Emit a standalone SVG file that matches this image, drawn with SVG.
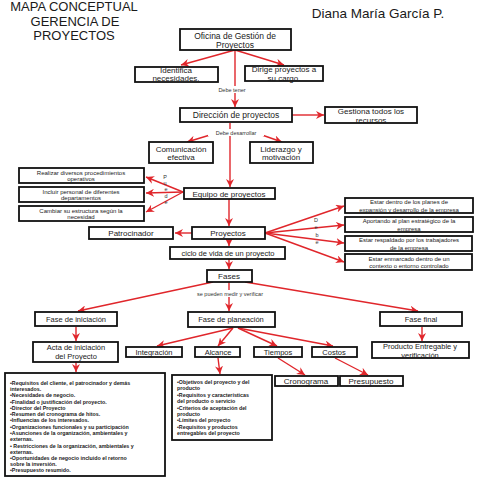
<svg xmlns="http://www.w3.org/2000/svg" width="480" height="480" viewBox="0 0 480 480">
<defs>
<style>
.b{fill:#fff;stroke:#111;stroke-width:1.8}
.t{font-family:"Liberation Sans",Arial,sans-serif;fill:#1a1a1a;text-anchor:middle}
.l{font-family:"Liberation Sans",Arial,sans-serif;fill:#1a1a1a;font-weight:bold;font-size:5.3px}
.c{stroke:#e0262b;stroke-width:1.4;fill:none;marker-end:url(#ah)}
.lab{font-family:"Liberation Sans",Arial,sans-serif;fill:#333;font-size:5.5px;text-anchor:middle}
</style>
<marker id="ah" markerUnits="userSpaceOnUse" markerWidth="9" markerHeight="8" refX="8" refY="4" orient="auto">
<path d="M0,0 L8,4 L0,8 L2.5,4 z" fill="#e0262b"/>
</marker>
</defs>
<rect width="480" height="480" fill="#fff"/>
<g id="title" class="t" font-size="13">
<text x="74" y="11">MAPA CONCEPTUAL</text>
<text x="75" y="26">GERENCIA DE</text>
<text x="74" y="40">PROYECTOS</text>
</g>
<text class="t" x="378" y="18" font-size="13.5">Diana María García P.</text>

<g id="connectors">
<line class="c" x1="235" y1="50" x2="181" y2="65"/>
<line class="c" x1="235" y1="50" x2="284" y2="65"/>
<line class="c" x1="235" y1="50" x2="235" y2="107"/>
<line class="c" x1="292" y1="115" x2="324" y2="115"/>
<line class="c" x1="230" y1="123" x2="230" y2="187"/>
<line class="c" x1="210" y1="135" x2="187" y2="142"/>
<line class="c" x1="262" y1="135" x2="282" y2="142"/>
<line class="c" x1="183" y1="192" x2="146" y2="177"/>
<line class="c" x1="183" y1="192" x2="146" y2="193"/>
<line class="c" x1="183" y1="192" x2="146" y2="212"/>
<line class="c" x1="229" y1="199" x2="229" y2="226"/>
<line class="c" x1="192" y1="233" x2="175" y2="233"/>
<line class="c" x1="265" y1="233" x2="344" y2="206"/>
<line class="c" x1="265" y1="233" x2="344" y2="225"/>
<line class="c" x1="265" y1="233" x2="344" y2="243"/>
<line class="c" x1="265" y1="233" x2="344" y2="262"/>
<line class="c" x1="229" y1="239" x2="229" y2="246"/>
<line class="c" x1="229" y1="259" x2="229" y2="269"/>
<line class="c" x1="213" y1="282" x2="78" y2="311"/>
<line class="c" x1="229" y1="282" x2="229" y2="311"/>
<line class="c" x1="245" y1="282" x2="418" y2="311"/>
<line class="c" x1="76" y1="327" x2="76" y2="341"/>
<line class="c" x1="233" y1="328" x2="157" y2="346"/>
<line class="c" x1="233" y1="328" x2="218" y2="346"/>
<line class="c" x1="238" y1="328" x2="277" y2="346"/>
<line class="c" x1="238" y1="328" x2="333" y2="346"/>
<line class="c" x1="422" y1="327" x2="422" y2="341"/>
<line class="c" x1="76" y1="362" x2="76" y2="372"/>
<line class="c" x1="218" y1="358" x2="220" y2="374"/>
<line class="c" x1="278" y1="358" x2="305" y2="375"/>
<line class="c" x1="335" y1="358" x2="368" y2="375"/>
</g>

<g id="lab1"><rect x="218" y="86" width="27" height="7" fill="#fff"/><text class="lab" x="232" y="92">Debe tener</text></g>
<g id="lab2"><rect x="208" y="129" width="56" height="7" fill="#fff"/><text class="lab" x="236" y="135">Debe desarrollar</text></g>
<g id="lab3"><rect x="190" y="290" width="80" height="7" fill="#fff"/><text class="lab" x="230" y="296">se pueden medir y verificar</text></g>
<g id="lab4" class="lab" font-size="6"><text x="165" y="179">P</text><text x="165" y="185">u</text><text x="166" y="191">e</text><text x="166" y="198">d</text><text x="166" y="204">e</text></g>
<g id="lab5" class="lab" font-size="6"><text x="316" y="222">D</text><text x="316" y="229">e</text><text x="317" y="237">b</text><text x="317" y="244">e</text></g>

<g id="oficina"><rect class="b" x="180" y="29" width="111" height="21"/><text class="t" font-size="8.5" x="235" y="39">Oficina de Gestión de</text><text class="t" font-size="8.5" x="235" y="48">Proyectos</text></g>
<g id="identifica"><rect class="b" x="135" y="67" width="83" height="15"/><text class="t" font-size="8" x="176" y="73">Identifica</text><text class="t" font-size="8" x="176" y="81">necesidades.</text></g>
<g id="dirige"><rect class="b" x="245" y="66" width="78" height="15"/><text class="t" font-size="8" x="284" y="72">Dirige proyectos  a</text><text class="t" font-size="8" x="284" y="81">su cargo.</text></g>
<g id="direccion"><rect class="b" x="180" y="108" width="112" height="14"/><text class="t" font-size="8.5" x="236" y="118">Dirección de proyectos</text></g>
<g id="gestiona"><rect class="b" x="325" y="107" width="92" height="16"/><text class="t" font-size="8" x="371" y="114">Gestiona todos los</text><text class="t" font-size="8" x="371" y="123">recursos</text></g>
<g id="comunicacion"><rect class="b" x="149" y="142" width="64" height="21"/><text class="t" font-size="8" x="181" y="152">Comunicación</text><text class="t" font-size="8" x="181" y="160">efectiva</text></g>
<g id="liderazgo"><rect class="b" x="250" y="142" width="63" height="21"/><text class="t" font-size="8" x="281" y="152">Liderazgo y</text><text class="t" font-size="8" x="281" y="160">motivación</text></g>
<g id="realizar"><rect class="b" x="19" y="168" width="125" height="15"/><text class="t" font-size="6" x="81" y="174.5">Realizar diversos procedimientos</text><text class="t" font-size="6" x="81" y="181">operativos</text></g>
<g id="incluir"><rect class="b" x="19" y="187" width="125" height="15"/><text class="t" font-size="6" x="81" y="193.5">Incluir personal de diferentes</text><text class="t" font-size="6" x="81" y="200">departamentos</text></g>
<g id="cambiar"><rect class="b" x="19" y="206" width="125" height="15"/><text class="t" font-size="6" x="81" y="212.5">Cambiar su estructura según la</text><text class="t" font-size="6" x="81" y="219">necesidad</text></g>
<g id="equipo"><rect class="b" x="184" y="188" width="91" height="11"/><text class="t" font-size="8" x="229" y="196.5">Equipo de proyectos</text></g>
<g id="proyectos"><rect class="b" x="192" y="227" width="73" height="12"/><text class="t" font-size="8" x="228" y="236">Proyectos</text></g>
<g id="patrocinador"><rect class="b" x="89" y="227" width="84" height="12"/><text class="t" font-size="8" x="131" y="236">Patrocinador</text></g>
<g id="r1"><rect class="b" x="345" y="198" width="128" height="15"/><text class="t" font-size="6" x="409" y="204">Estar dentro de los planes de</text><text class="t" font-size="6" x="409" y="211.5">expansión y desarrollo de la empresa</text></g>
<g id="r2"><rect class="b" x="345" y="217" width="128" height="15"/><text class="t" font-size="6" x="409" y="223">Aportando al plan estratégico de la</text><text class="t" font-size="6" x="409" y="230.5">empresa</text></g>
<g id="r3"><rect class="b" x="345" y="236" width="127" height="15"/><text class="t" font-size="6" x="409" y="242">Estar respaldado por los trabajadores</text><text class="t" font-size="6" x="409" y="249.5">de la empresa</text></g>
<g id="r4"><rect class="b" x="345" y="254" width="127" height="16"/><text class="t" font-size="6" x="409" y="260.5">Estar enmarcado dentro de un</text><text class="t" font-size="6" x="409" y="268">contexto o entorno controlado</text></g>
<g id="ciclo"><rect class="b" x="170" y="247" width="115" height="12"/><text class="t" font-size="7.5" x="228" y="256">ciclo de vida de un proyecto</text></g>
<g id="fases"><rect class="b" x="207" y="270" width="45" height="12"/><text class="t" font-size="8" x="229" y="279">Fases</text></g>
<g id="iniciacion"><rect class="b" x="35" y="312" width="82" height="14"/><text class="t" font-size="7.5" x="76" y="321.5">Fase de iniciación</text></g>
<g id="planeacion"><rect class="b" x="188" y="312" width="87" height="15"/><text class="t" font-size="7.5" x="231" y="322">Fase de planeación</text></g>
<g id="final"><rect class="b" x="380" y="312" width="82" height="14"/><text class="t" font-size="7.5" x="421" y="321.5">Fase final</text></g>
<g id="acta"><rect class="b" x="33" y="342" width="85" height="20"/><text class="t" font-size="7.5" x="76" y="350">Acta de iniciación</text><text class="t" font-size="7.5" x="76" y="359">del Proyecto</text></g>
<g id="integracion"><rect class="b" x="126" y="347" width="56" height="10"/><text class="t" font-size="7.5" x="154" y="355">Integración</text></g>
<g id="alcance"><rect class="b" x="195" y="347" width="45" height="10"/><text class="t" font-size="7.5" x="218" y="355">Alcance</text></g>
<g id="tiempos"><rect class="b" x="254" y="347" width="48" height="10"/><text class="t" font-size="7.5" x="278" y="355">Tiempos</text></g>
<g id="costos"><rect class="b" x="312" y="347" width="45" height="10"/><text class="t" font-size="7.5" x="334" y="355">Costos</text></g>
<g id="producto"><rect class="b" x="372" y="342" width="97" height="16"/><text class="t" font-size="7.5" x="420" y="349">Producto Entregable y</text><text class="t" font-size="7.5" x="420" y="357.5">verificación</text></g>
<g id="cronograma"><rect class="b" x="275" y="376" width="63" height="10"/><text class="t" font-size="8" x="306" y="384">Cronograma</text></g>
<g id="presupuesto"><rect class="b" x="340" y="376" width="63" height="10"/><text class="t" font-size="8" x="371" y="384">Presupuesto</text></g>
<g id="alcancedet"><rect class="b" x="172" y="375" width="100" height="65"/>
<text class="l" x="177" y="384">•Objetivos del proyecto y del</text>
<text class="l" x="177" y="390">producto</text>
<text class="l" x="177" y="396.5">•Requisitos y características</text>
<text class="l" x="177" y="403">del producto o servicio</text>
<text class="l" x="177" y="409.5">•Criterios de aceptación del</text>
<text class="l" x="177" y="415.5">producto</text>
<text class="l" x="177" y="422">•Límites del proyecto</text>
<text class="l" x="177" y="428.5">•Requisitos y productos</text>
<text class="l" x="177" y="435">entregables del proyecto</text>
</g>
<g id="actadet"><rect class="b" x="5" y="373" width="160" height="103"/>
<text class="l" x="10" y="385">•Requisitos del cliente, el patrocinador y demás</text>
<text class="l" x="10" y="391">interesados.</text>
<text class="l" x="10" y="397">•Necesidades de negocio.</text>
<text class="l" x="10" y="403.5">•Finalidad o justificación del proyecto.</text>
<text class="l" x="10" y="409.5">•Director del Proyecto</text>
<text class="l" x="10" y="416">•Resumen del cronograma de hitos.</text>
<text class="l" x="10" y="422">•Influencias de los interesados.</text>
<text class="l" x="10" y="428.5">•Organizaciones funcionales y su participación</text>
<text class="l" x="10" y="434.5">•Asunciones de la organización, ambientales y</text>
<text class="l" x="10" y="441">externas.</text>
<text class="l" x="10" y="447.5">• Restricciones de la organización, ambientales y</text>
<text class="l" x="10" y="453.5">externas.</text>
<text class="l" x="10" y="460">•Oportunidades de negocio incluido el retorno</text>
<text class="l" x="10" y="466">sobre la inversión.</text>
<text class="l" x="10" y="472">•Presupuesto resumido.</text>
</g>
</svg>
